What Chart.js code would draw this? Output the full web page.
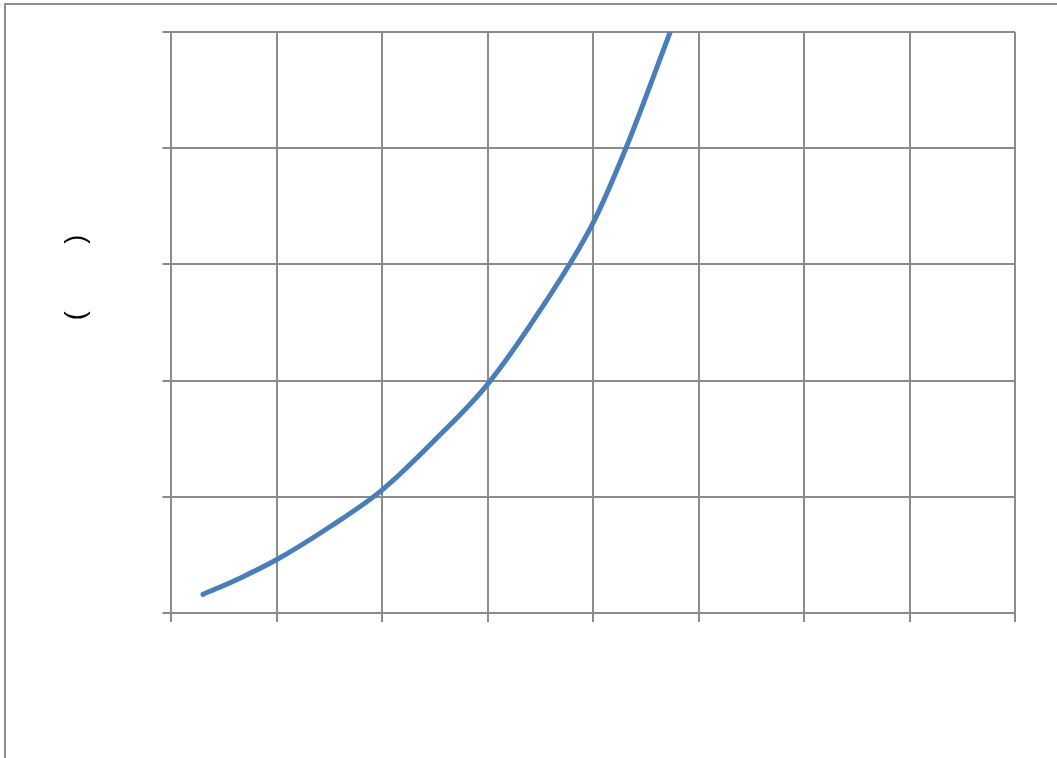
<!DOCTYPE html>
<html>
<head>
<meta charset="utf-8">
<script src="https://cdn.jsdelivr.net/npm/chart.js@4/dist/chart.umd.min.js"></script>
<style>
  html, body { margin: 0; padding: 0; background: #fff; overflow: hidden; }
  #frame {
    position: absolute; left: 4px; top: 3px; width: 1100px; height: 800px;
    border: 2px solid #8e8e8e; box-sizing: border-box;
  }
  #wrap { position: absolute; left: 0; top: 0; width: 1057px; height: 758px; }
</style>
</head>
<body>
<div id="frame"></div>
<div id="wrap"><canvas id="chart"></canvas></div>
<script>
// ── Data ────────────────────────────────────────────────────────────────
const xValues = [0.3, 0.65, 1.0, 1.5, 2.0, 2.5, 3.0, 3.5, 4.0, 4.31, 4.73];
const yValues = [0.16, 0.30, 0.46, 0.74, 1.06, 1.49, 1.97, 2.61, 3.36, 4.0, 5.0];
const xTicks  = [0, 1, 2, 3, 4, 5, 6, 7, 8];
const yTicks  = [0, 1, 2, 3, 4, 5];
// y title: glyphs between the brackets did not survive, keep the brackets
const yTitle  = '            (         )';

const points = xValues.map((x, i) => ({ x, y: yValues[i] }));

const gridColor = '#8c8c8c';

new Chart(document.getElementById('chart').getContext('2d'), {
  type: 'scatter',
  data: {
    datasets: [{
      data: points,
      showLine: true,
      borderColor: '#4a7ebb',
      borderWidth: 5,
      pointRadius: 0,
      cubicInterpolationMode: 'monotone',
      borderCapStyle: 'round',
    }],
  },
  options: {
    responsive: true,
    maintainAspectRatio: false,
    animation: false,
    layout: { padding: { left: 10, top: 32, right: 42, bottom: 136 } },
    plugins: { legend: { display: false }, tooltip: { enabled: false } },
    scales: {
      x: {
        type: 'linear',
        min: xTicks[0], max: xTicks[xTicks.length - 1],
        afterBuildTicks: s => { s.ticks = xTicks.map(v => ({ value: v })); },
        ticks: { display: false },
        grid: { color: gridColor, lineWidth: 2, tickLength: 9 },
        border: { color: gridColor, width: 2 },
      },
      y: {
        type: 'linear',
        min: yTicks[0], max: yTicks[yTicks.length - 1],
        afterBuildTicks: s => { s.ticks = yTicks.map(v => ({ value: v })); },
        ticks: { display: false },
        grid: { color: gridColor, lineWidth: 2, tickLength: 9 },
        border: { color: gridColor, width: 2 },
        title: {
          display: true,
          text: yTitle,
          color: '#000',
          font: { family: 'Liberation Sans', size: 27 },
          padding: { top: 50, bottom: 70 },
        },
      },
    },
  },
});
</script>
</body>
</html>
